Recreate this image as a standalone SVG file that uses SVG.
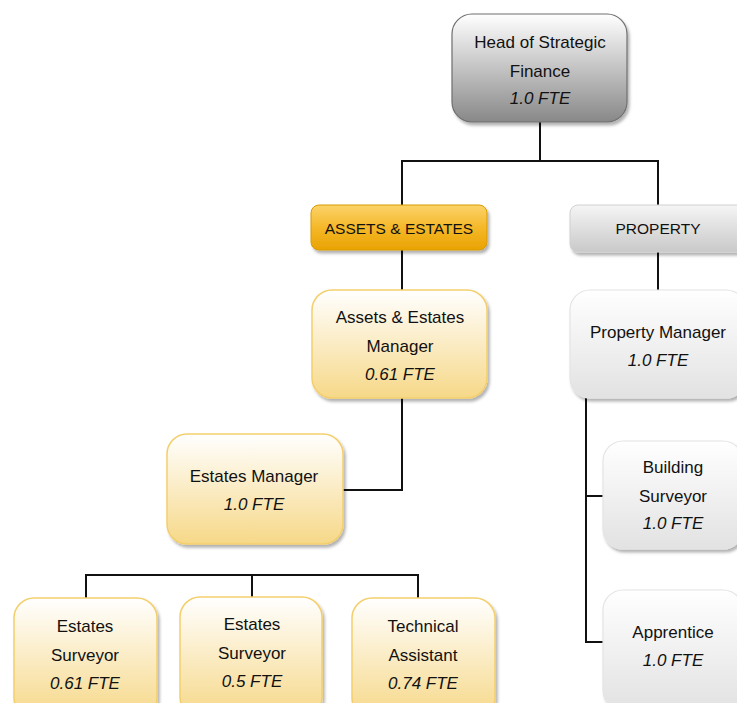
<svg xmlns="http://www.w3.org/2000/svg" width="737" height="703" viewBox="0 0 737 703">
<defs>
<linearGradient id="gHead" x1="0" y1="0" x2="0" y2="1"><stop offset="0" stop-color="#ffffff"/><stop offset="1" stop-color="#888888"/></linearGradient>
<linearGradient id="gOrange" x1="0" y1="0" x2="0" y2="1"><stop offset="0" stop-color="#fbd36a"/><stop offset="0.5" stop-color="#f5b82a"/><stop offset="1" stop-color="#e9a300"/></linearGradient>
<linearGradient id="gGold" x1="0" y1="0" x2="0" y2="1"><stop offset="0" stop-color="#ffffff"/><stop offset="1" stop-color="#f6d888"/></linearGradient>
<linearGradient id="gGreyHdr" x1="0" y1="0" x2="0" y2="1"><stop offset="0" stop-color="#f5f5f5"/><stop offset="1" stop-color="#c9c9c9"/></linearGradient>
<linearGradient id="gGrey" x1="0" y1="0" x2="0" y2="1"><stop offset="0" stop-color="#ffffff"/><stop offset="1" stop-color="#e2e2e2"/></linearGradient>
<filter id="sh" x="-10%" y="-10%" width="130%" height="130%"><feDropShadow dx="2" dy="3" stdDeviation="1.5" flood-color="#000" flood-opacity="0.3"/></filter>
</defs>
<style>
text{font-family:"Liberation Sans",Arial,sans-serif;font-size:17px;fill:#111;text-anchor:middle}
.i{font-style:italic}
.hdr{font-size:15.5px}
.head{fill:url(#gHead);stroke:#6f6f6f;stroke-width:1.2;filter:url(#sh)}
.orh{fill:url(#gOrange);stroke:#d99a00;stroke-width:1;filter:url(#sh)}
.gold{fill:url(#gGold);stroke:#f3cf6c;stroke-width:1.5;filter:url(#sh)}
.gyh{fill:url(#gGreyHdr);stroke:#d0d0d0;stroke-width:1;filter:url(#sh)}
.gy{fill:url(#gGrey);stroke:#e4e4e4;stroke-width:1.2;filter:url(#sh)}
.c{fill:none;stroke:#111;stroke-width:2}
</style>
<rect width="737" height="703" fill="#ffffff"/>
<g id="connectors">
<path class="c" d="M540 122V161M402 205V161H658V205"/>
<path class="c" d="M402 250V290"/>
<path class="c" d="M402 397V490H343"/>
<path class="c" d="M86 598V575H418V598M252 575V598"/>
<path class="c" d="M658 252V290"/>
<path class="c" d="M586 397V642H604M586 496H604"/>
</g>
<g id="head">
<rect class="head" x="452" y="14" width="175" height="108" rx="20"/>
<text x="540" y="48">Head of Strategic</text>
<text x="540" y="77">Finance</text>
<text class="i" x="540" y="104">1.0 FTE</text>
</g>
<g id="assets-estates">
<rect class="orh" x="311" y="205" width="176" height="45" rx="8"/>
<text class="hdr" x="399" y="234">ASSETS &amp; ESTATES</text>
</g>
<g id="property">
<rect class="gyh" x="570" y="205" width="176" height="47" rx="8"/>
<text class="hdr" x="658" y="234">PROPERTY</text>
</g>
<g id="ae-manager">
<rect class="gold" x="312" y="290" width="175" height="108" rx="20"/>
<text x="400" y="323">Assets &amp; Estates</text>
<text x="400" y="352">Manager</text>
<text class="i" x="400" y="380">0.61 FTE</text>
</g>
<g id="estates-manager">
<rect class="gold" x="167" y="434" width="176" height="110" rx="20"/>
<text x="254" y="482">Estates Manager</text>
<text class="i" x="254" y="510">1.0 FTE</text>
</g>
<g id="estates-surveyor-1">
<rect class="gold" x="14" y="598" width="143" height="120" rx="20"/>
<text x="85" y="632">Estates</text>
<text x="85" y="661">Surveyor</text>
<text class="i" x="85" y="689">0.61 FTE</text>
</g>
<g id="estates-surveyor-2">
<rect class="gold" x="180" y="597" width="142" height="120" rx="20"/>
<text x="252" y="630">Estates</text>
<text x="252" y="659">Surveyor</text>
<text class="i" x="252" y="687">0.5 FTE</text>
</g>
<g id="technical-assistant">
<rect class="gold" x="352" y="598" width="143" height="120" rx="20"/>
<text x="423" y="632">Technical</text>
<text x="423" y="661">Assistant</text>
<text class="i" x="423" y="689">0.74 FTE</text>
</g>
<g id="property-manager">
<rect class="gy" x="570" y="290" width="176" height="108" rx="20"/>
<text x="658" y="338">Property Manager</text>
<text class="i" x="658" y="366">1.0 FTE</text>
</g>
<g id="building-surveyor">
<rect class="gy" x="603" y="441" width="140" height="108" rx="20"/>
<text x="673" y="473">Building</text>
<text x="673" y="502">Surveyor</text>
<text class="i" x="673" y="529">1.0 FTE</text>
</g>
<g id="apprentice">
<rect class="gy" x="603" y="590" width="140" height="120" rx="20"/>
<text x="673" y="638">Apprentice</text>
<text class="i" x="673" y="666">1.0 FTE</text>
</g>
</svg>
